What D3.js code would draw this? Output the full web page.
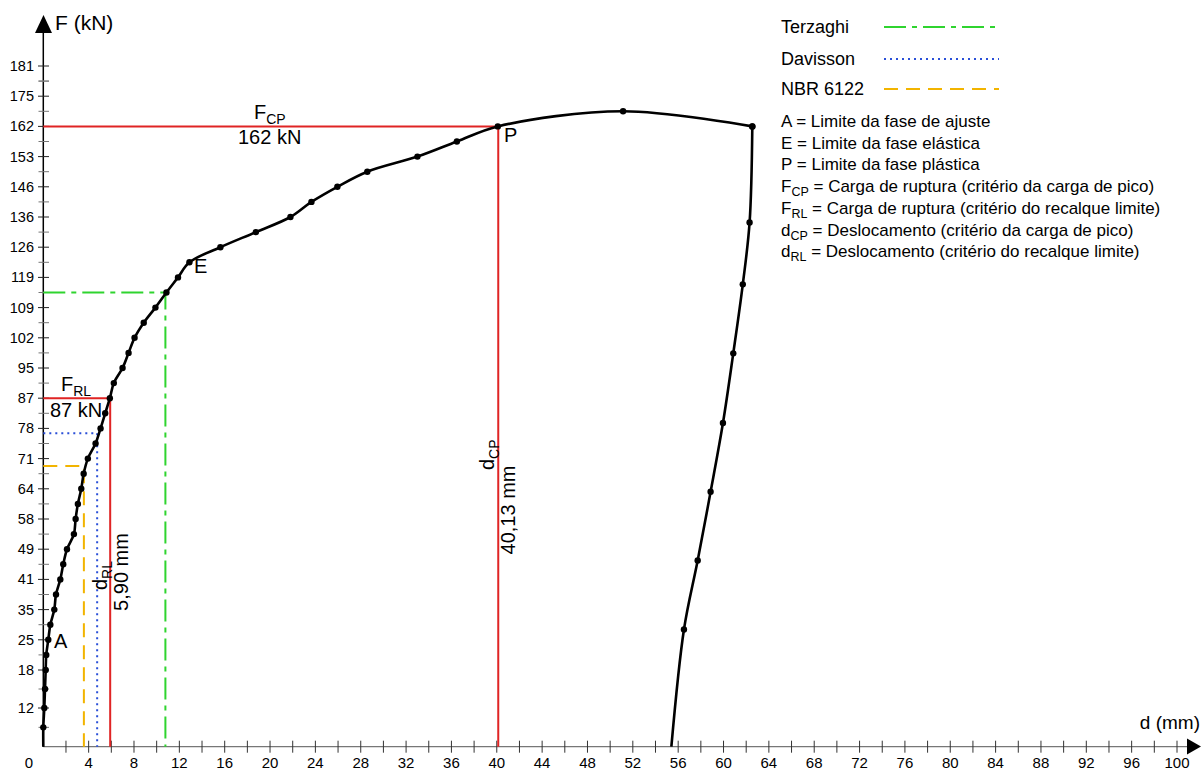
<!DOCTYPE html>
<html>
<head>
<meta charset="utf-8">
<script src="https://cdn.jsdelivr.net/npm/d3@7"></script>
<style>
  body { margin: 0; background: #fff; }
  svg { font-family: "Liberation Sans", Arial, sans-serif; }
</style>
</head>
<body>
<svg id="chart" width="1203" height="772"></svg>
<script>
// load test curve (d in mm, F in kN)
var dispLoad = [0, 0.0, 0.09, 0.15, 0.21, 0.26, 0.44, 0.62, 0.97, 1.12, 1.5, 1.76, 2.09, 2.7, 2.85, 3.05, 3.35, 3.56, 3.93, 4.61, 5.05, 5.46, 5.87, 6.22, 6.99, 7.52, 8.05, 8.86, 9.89, 10.86, 11.88, 12.89, 15.62, 18.75, 21.8, 23.65, 25.94, 28.58, 33.0, 36.48, 40.09, 51.14, 62.54];
var forceLoad = [0, 6, 12, 15, 18, 21.5, 25, 30, 35, 38, 41, 45, 49, 53.5, 58, 61, 64, 67.5, 71, 74.5, 78, 82.5, 87, 91, 95, 98.5, 102, 105.5, 109, 114, 119, 122.5, 126, 131, 136, 141, 146, 149.5, 153, 157.5, 162, 168.5, 162];
var dispUnload = [62.54, 62.3, 61.7, 60.86, 59.95, 58.86, 57.72, 56.51, 55.4];
var forceUnload = [162, 134.2, 116.7, 98.4, 79.6, 63.4, 46, 28.4, 0];

// y axis tick labels (equally spaced load steps)
var yTickLabels = [0, 12, 18, 25, 35, 41, 49, 58, 64, 71, 78, 87, 95, 102, 109, 119, 126, 136, 146, 153, 162, 175, 181];
var xTickLabels = [0, 4, 8, 12, 16, 20, 24, 28, 32, 36, 40, 44, 48, 52, 56, 60, 64, 68, 72, 76, 80, 84, 88, 92, 96, 100];

// criteria
var crit_names = ["Terzaghi", "Davisson", "NBR 6122"];
var crit_d = [10.77, 4.75, 3.58];
var crit_F = [114, 76.9, 69.3];
var dRL = 5.90, FRL = 87;
var dCP = 40.13, FCP = 162;

var svg = d3.select("#chart");

var x = d3.scaleLinear().domain([0, 100]).range([43.3, 1177]);

// y positions: bottom two steps wider, then equal spacing
var yRange = yTickLabels.map(function(d, i) {
  if (i == 0) return 746.7;
  if (i == 1) return 708;
  return 670 - (i - 2) * 30.2;
});
var y = d3.scaleLinear().domain(yTickLabels).range(yRange);

// axes
svg.append("line")
  .attr("x1", x(0)).attr("x2", 1188).attr("y1", y(0)).attr("y2", y(0))
  .style("stroke", "#777").style("stroke-width", 1.2);
svg.append("path")
  .attr("d", "M1201,746.5 L1187,738.5 L1187,754.5 Z").attr("fill", "#000");
svg.append("line")
  .attr("x1", x(0)).attr("x2", x(0)).attr("y1", y(0)).attr("y2", 32)
  .style("stroke", "#000").style("stroke-width", 1.5);
svg.append("path")
  .attr("d", "M43.5,15 L35,33 L52,33 Z").attr("fill", "#000");

// x ticks every 2 mm
var xt = d3.range(2, 101, 2);
svg.append("g").selectAll("line")
  .data(xt).enter().append("line")
    .attr("x1", function(d) { return x(d); })
    .attr("x2", function(d) { return x(d); })
    .attr("y1", y(0) - 6).attr("y2", y(0) + 6)
    .style("stroke", "#333").style("stroke-width", 1);
svg.append("g").selectAll("text")
  .data(xTickLabels).enter().append("text")
    .attr("x", function(d) { return d == 0 ? 29 : x(d); })
    .attr("y", 768)
    .attr("text-anchor", "middle")
    .style("font-size", "15px")
    .text(function(d) { return d; });

// y ticks (major at labels, minor halfway)
var yMinor = [];
for (var i = 0; i < yRange.length - 1; i++) yMinor.push((yRange[i] + yRange[i + 1]) / 2);
yMinor.push(yRange[yRange.length - 1] + 15.1);
svg.append("g").selectAll("line")
  .data(yMinor).enter().append("line")
    .attr("x1", 38.5).attr("x2", 49)
    .attr("y1", function(d) { return d; }).attr("y2", function(d) { return d; })
    .style("stroke", "#777").style("stroke-width", 1);
svg.append("g").selectAll("line")
  .data(yTickLabels.slice(1)).enter().append("line")
    .attr("x1", 38).attr("x2", 49)
    .attr("y1", function(d) { return y(d); }).attr("y2", function(d) { return y(d); })
    .style("stroke", "#222").style("stroke-width", 1);
svg.append("g").selectAll("text")
  .data(yTickLabels.slice(1)).enter().append("text")
    .attr("x", 34)
    .attr("y", function(d) { return y(d) + 5; })
    .attr("text-anchor", "end")
    .style("font-size", "14.5px")
    .text(function(d) { return d; });

// criteria lines
var critColor = ["#2fd42f", "#2a4fd8", "#f2b400"];
var critDash = ["22,6,5,6", "2,4", "14,8"];
for (var k = 0; k < crit_names.length; k++) {
  svg.append("path")
    .attr("d", "M" + x(0) + "," + y(crit_F[k]) + " H" + x(crit_d[k]) + " V" + y(0))
    .attr("fill", "none")
    .style("stroke", critColor[k])
    .style("stroke-width", 2)
    .style("stroke-dasharray", critDash[k]);
}

// red rupture lines
[[dRL, FRL], [dCP, FCP]].forEach(function(p) {
  svg.append("path")
    .attr("d", "M" + x(0) + "," + y(p[1]) + " H" + x(p[0]) + " V" + y(0))
    .attr("fill", "none")
    .style("stroke", "#e02424")
    .style("stroke-width", 2);
});

// curve
var loadPts = dispLoad.map(function(d, i) { return [d, forceLoad[i]]; });
var unloadPts = dispUnload.map(function(d, i) { return [d, forceUnload[i]]; });
var line = d3.line()
  .x(function(d) { return x(d[0]); })
  .y(function(d) { return y(d[1]); })
  .curve(d3.curveCatmullRom.alpha(0.5));
[loadPts, unloadPts].forEach(function(pts) {
  svg.append("path")
    .attr("d", line(pts))
    .attr("fill", "none")
    .style("stroke", "#000")
    .style("stroke-width", 2.6);
});
svg.append("g").selectAll("circle")
  .data(loadPts.concat(unloadPts).filter(function(d) { return d[1] > 0; }))
  .enter().append("circle")
    .attr("cx", function(d) { return x(d[0]); })
    .attr("cy", function(d) { return y(d[1]); })
    .attr("r", 3.2)
    .attr("fill", "#000");

// axis titles
svg.append("text").attr("x", 55).attr("y", 30).style("font-size", "21px").text("F (kN)");
svg.append("text").attr("x", 1200).attr("y", 729).attr("text-anchor", "end").style("font-size", "19px").text("d (mm)");

// annotations
function sub(sel, main, s, size) {
  sel.append("tspan").text(main);
  sel.append("tspan").attr("dy", 5).style("font-size", (size * 0.7) + "px").text(s);
}
var t;
t = svg.append("text").attr("x", 254).attr("y", 119).style("font-size", "20px");
sub(t, "F", "CP", 20);
svg.append("text").attr("x", 238).attr("y", 144).style("font-size", "20px").text("162 kN");
t = svg.append("text").attr("x", 61).attr("y", 391).style("font-size", "20px");
sub(t, "F", "RL", 20);
svg.append("text").attr("x", 50).attr("y", 417).style("font-size", "20px").text("87 kN");
svg.append("text").attr("x", 54).attr("y", 648).style("font-size", "20px").text("A");
svg.append("text").attr("x", 194).attr("y", 273).style("font-size", "20px").text("E");
svg.append("text").attr("x", 504).attr("y", 142).style("font-size", "20px").text("P");

t = svg.append("text").attr("transform", "translate(107,590) rotate(-90)").style("font-size", "20px");
sub(t, "d", "RL", 20);
svg.append("text").attr("transform", "translate(128,572) rotate(-90)")
  .attr("text-anchor", "middle").style("font-size", "20px").text("5,90 mm");
t = svg.append("text").attr("transform", "translate(494,470) rotate(-90)").style("font-size", "20px");
sub(t, "d", "CP", 20);
svg.append("text").attr("transform", "translate(515,510) rotate(-90)")
  .attr("text-anchor", "middle").style("font-size", "20px").text("40,13 mm");

// legend
var legY = [27, 59, 89];
for (var k = 0; k < crit_names.length; k++) {
  svg.append("text").attr("x", 781).attr("y", legY[k] + 6).style("font-size", "18px").text(crit_names[k]);
  svg.append("line")
    .attr("x1", 884).attr("x2", 999).attr("y1", legY[k]).attr("y2", legY[k])
    .style("stroke", critColor[k]).style("stroke-width", 2)
    .style("stroke-dasharray", critDash[k]);
}
var defs = [
  ["A", "", " = Limite da fase de ajuste"],
  ["E", "", " = Limite da fase elástica"],
  ["P", "", " = Limite da fase plástica"],
  ["F", "CP", " = Carga de ruptura (critério da carga de pico)"],
  ["F", "RL", " = Carga de ruptura (critério do recalque limite)"],
  ["d", "CP", " = Deslocamento (critério da carga de pico)"],
  ["d", "RL", " = Deslocamento (critério do recalque limite)"]
];
defs.forEach(function(r, i) {
  var tt = svg.append("text").attr("x", 781).attr("y", 127 + i * 21.7).style("font-size", "17px");
  tt.append("tspan").text(r[0]);
  if (r[1]) {
    tt.append("tspan").attr("dy", 4).style("font-size", "12.5px").text(r[1]);
    tt.append("tspan").attr("dy", -4).text(r[2]);
  } else {
    tt.append("tspan").text(r[2]);
  }
});
</script>
</body>
</html>
